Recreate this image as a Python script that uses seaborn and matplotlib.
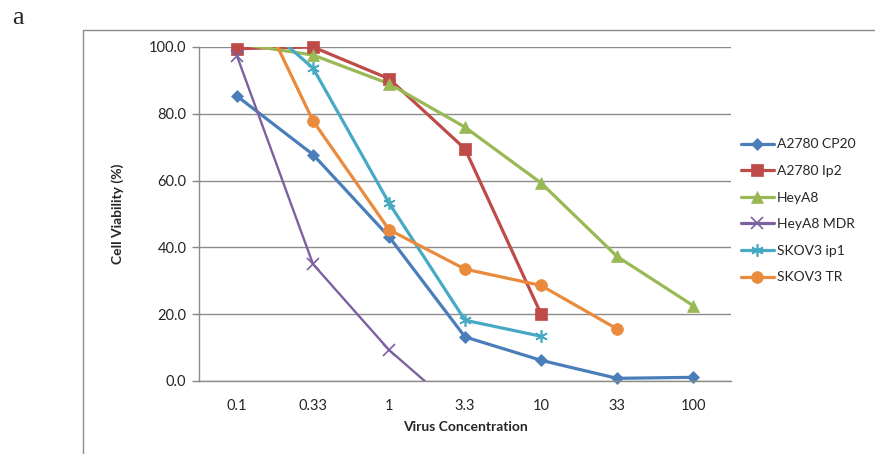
import matplotlib
matplotlib.use("Agg")
import matplotlib.pyplot as plt
from matplotlib.lines import Line2D
import seaborn as sns
import numpy as np
import pandas as pd

# Datos (viabilidad celular, %)
concentrations = ["0.1", "0.33", "1", "3.3", "10", "33", "100"]
series_names = ["A2780 CP20", "A2780 Ip2", "HeyA8", "HeyA8 MDR", "SKOV3 ip1", "SKOV3 TR"]
a2780_cp20 = [85.3, 67.8, 43.2, 13.2, 6.2, 0.8, 1.1]
a2780_ip2 = [99.5, 100.0, 90.5, 69.5, 20.1, np.nan, np.nan]
heya8 = [101.0, 97.6, 89.0, 76.0, 59.3, 37.3, 22.6]
heya8_mdr = [97.3, 35.0, 9.3, -10.5, np.nan, np.nan, np.nan]
skov3_ip1 = [113.4, 93.7, 53.3, 18.2, 13.4, np.nan, np.nan]
skov3_tr = [125.4, 77.9, 45.3, 33.5, 28.6, 15.6, np.nan]

colors = ["#4A7EBB", "#BE4B48", "#98B954", "#7D60A0", "#46AAC5", "#E98A3C"]
markers = ["D", "s", "^", "x", (6, 2, 0), "o"]
marker_sizes = [6.5, 8.5, 8.5, 8, 9, 8.5]

values = [a2780_cp20, a2780_ip2, heya8, heya8_mdr, skov3_ip1, skov3_tr]
rows = []
for name, vals in zip(series_names, values):
    for c, v in zip(concentrations, vals):
        rows.append({"Virus Concentration": c, "Cell Viability (%)": v, "Line": name})
df = pd.DataFrame(rows).dropna()

sns.set_style("white")
plt.rcParams["font.family"] = ["Lato", "DejaVu Sans"]

fig = plt.figure(figsize=(8.75, 4.54), dpi=100)
ax = fig.add_axes([199 / 875, 73 / 454, 532 / 875, 334 / 454])

# Lineas (recortadas al area del grafico)
sns.lineplot(
    data=df, x="Virus Concentration", y="Cell Viability (%)", hue="Line",
    hue_order=series_names, palette=colors, linewidth=2.3, sort=False,
    legend=False, ax=ax,
)
for ln, name in zip(ax.lines, series_names):
    if name == "HeyA8 MDR":
        ln.set_linewidth(1.7)

# Marcadores (sin recortar, solo puntos dentro del rango)
for name, col, mk, ms in zip(series_names, colors, markers, marker_sizes):
    sub = df[(df["Line"] == name) & (df["Cell Viability (%)"] >= 0)
             & (df["Cell Viability (%)"] <= 100.5)]
    mew = 1.2 if mk in ("x", (6, 2, 0)) else 0.5
    sns.lineplot(
        data=sub, x="Virus Concentration", y="Cell Viability (%)",
        color=col, marker=mk, markersize=ms, linestyle="none",
        markeredgecolor=col, markeredgewidth=mew, sort=False,
        legend=False, ax=ax, clip_on=False,
    )

ax.set_xlim(-0.5, 6.5)
ax.set_ylim(0, 100)
ax.set_yticks(np.arange(0, 101, 20))
ax.set_yticklabels([f"{v:.1f}" for v in np.arange(0, 101, 20)], fontsize=10.5)
ax.tick_params(axis="x", labelsize=10.5, length=0, pad=13)
ax.tick_params(axis="y", length=5, width=1, color="#888888", left=True, pad=4)
ax.yaxis.grid(True, color="#8c8c8c", linewidth=1)
ax.xaxis.grid(False)
for s in ["top", "right"]:
    ax.spines[s].set_visible(False)
for s in ["left", "bottom"]:
    ax.spines[s].set_color("#8c8c8c")
    ax.spines[s].set_linewidth(1)
ax.set_xlabel("Virus Concentration", fontsize=10, fontweight="bold", labelpad=6)
ax.set_ylabel("Cell Viability (%)", fontsize=10, fontweight="bold", labelpad=18)

# Leyenda
handles = [
    Line2D([0], [0], color=c, marker=m, markersize=s, linewidth=2.3,
           markeredgecolor=c, markeredgewidth=1.2 if m in ("x", (6, 2, 0)) else 0.5)
    for c, m, s in zip(colors, markers, marker_sizes)
]
fig.legend(handles, series_names, loc="upper left", bbox_to_anchor=(728 / 875, 1 - 126 / 454),
           frameon=False, fontsize=10, handlelength=2.4, handletextpad=0.2,
           labelspacing=1.05)

# Marco del area del grafico
fig.add_artist(Line2D([83 / 875, 83 / 875], [0, 1 - 30 / 454], transform=fig.transFigure,
                      color="#8c8c8c", linewidth=1))
fig.add_artist(Line2D([83 / 875, 1], [1 - 30 / 454, 1 - 30 / 454], transform=fig.transFigure,
                      color="#8c8c8c", linewidth=1))

fig.text(12 / 875, 1 - 18 / 454, "a", family=["Liberation Serif", "DejaVu Serif"],
         fontsize=19, va="center", ha="left")

fig.savefig("out.png", dpi=100)
